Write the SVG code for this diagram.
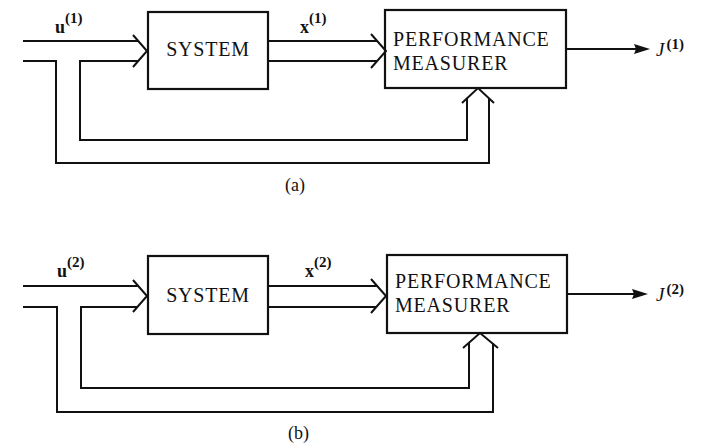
<svg xmlns="http://www.w3.org/2000/svg" width="709" height="445" viewBox="0 0 709 445">
<style>
.box{fill:#fff;stroke:#111;stroke-width:2.2}
.ln{fill:none;stroke:#111;stroke-width:2;stroke-linejoin:miter}
.t{font-family:"Liberation Serif","Times New Roman",serif;font-size:20px;letter-spacing:0.8px;fill:#111}
.v{font-family:"Liberation Serif","Times New Roman",serif;font-size:18px;font-weight:bold;fill:#111}
.s{font-family:"Liberation Serif","Times New Roman",serif;font-size:15px;font-weight:bold;fill:#111}
.j{font-family:"Liberation Serif","Times New Roman",serif;font-size:19px;font-style:italic;fill:#111}
.c{font-family:"Liberation Serif","Times New Roman",serif;font-size:18px;fill:#111}
</style>
<rect width="709" height="445" fill="#fff"/>
<!-- Diagram (a) -->
<g id="sys-a"><rect class="box" x="148" y="12" width="120" height="77"/><text class="t" x="208" y="56" text-anchor="middle">SYSTEM</text></g>
<g id="pm-a"><rect class="box" x="385" y="10" width="181" height="78"/><text class="t" x="393" y="46">PERFORMANCE</text><text class="t" x="393" y="70">MEASURER</text></g>
<g id="conn-a">
<polyline class="ln" points="23,41 138,41"/>
<polyline class="ln" points="23,61 56,61 56,163 489,163 489,98"/>
<polyline class="ln" points="138,61 80,61 80,140 467,140 467,98"/>
<polyline class="ln" points="133,35 147,51 133,67"/>
<polyline class="ln" points="268,41 377,41"/>
<polyline class="ln" points="268,61 377,61"/>
<polyline class="ln" points="371,34 386,51 371,68"/>
<polyline class="ln" points="462,103 478,88 494,103"/>
<line class="ln" x1="566" y1="49" x2="640" y2="49"/>
<polygon points="650,49 634,44 636,49 634,54" fill="#111"/>
</g>
<text class="v" x="55" y="33">u<tspan class="s" dy="-10">(1)</tspan></text>
<text class="v" x="300" y="33">x<tspan class="s" dy="-10">(1)</tspan></text>
<text class="j" x="656" y="56">J<tspan class="s" dx="2" dy="-7" font-style="normal">(1)</tspan></text>
<text class="c" x="285" y="191">(a)</text>
<!-- Diagram (b) -->
<g id="sys-b"><rect class="box" x="148" y="256" width="120" height="78"/><text class="t" x="208" y="302" text-anchor="middle">SYSTEM</text></g>
<g id="pm-b"><rect class="box" x="387" y="255" width="180" height="78"/><text class="t" x="395" y="288">PERFORMANCE</text><text class="t" x="395" y="312">MEASURER</text></g>
<g id="conn-b">
<polyline class="ln" points="23,286 138,286"/>
<polyline class="ln" points="23,307 57,307 57,412 493,412 493,343"/>
<polyline class="ln" points="138,307 81,307 81,388 469,388 469,343"/>
<polyline class="ln" points="133,280 147,296 133,312"/>
<polyline class="ln" points="268,286 377,286"/>
<polyline class="ln" points="268,307 377,307"/>
<polyline class="ln" points="371,279 386,296 371,313"/>
<polyline class="ln" points="463,348 480,333 498,348"/>
<line class="ln" x1="567" y1="294" x2="638" y2="294"/>
<polygon points="648,294 632,289 634,294 632,299" fill="#111"/>
</g>
<text class="v" x="57" y="277">u<tspan class="s" dy="-10">(2)</tspan></text>
<text class="v" x="305" y="277">x<tspan class="s" dy="-10">(2)</tspan></text>
<text class="j" x="656" y="301">J<tspan class="s" dx="2" dy="-7" font-style="normal">(2)</tspan></text>
<text class="c" x="288" y="439">(b)</text>
</svg>
